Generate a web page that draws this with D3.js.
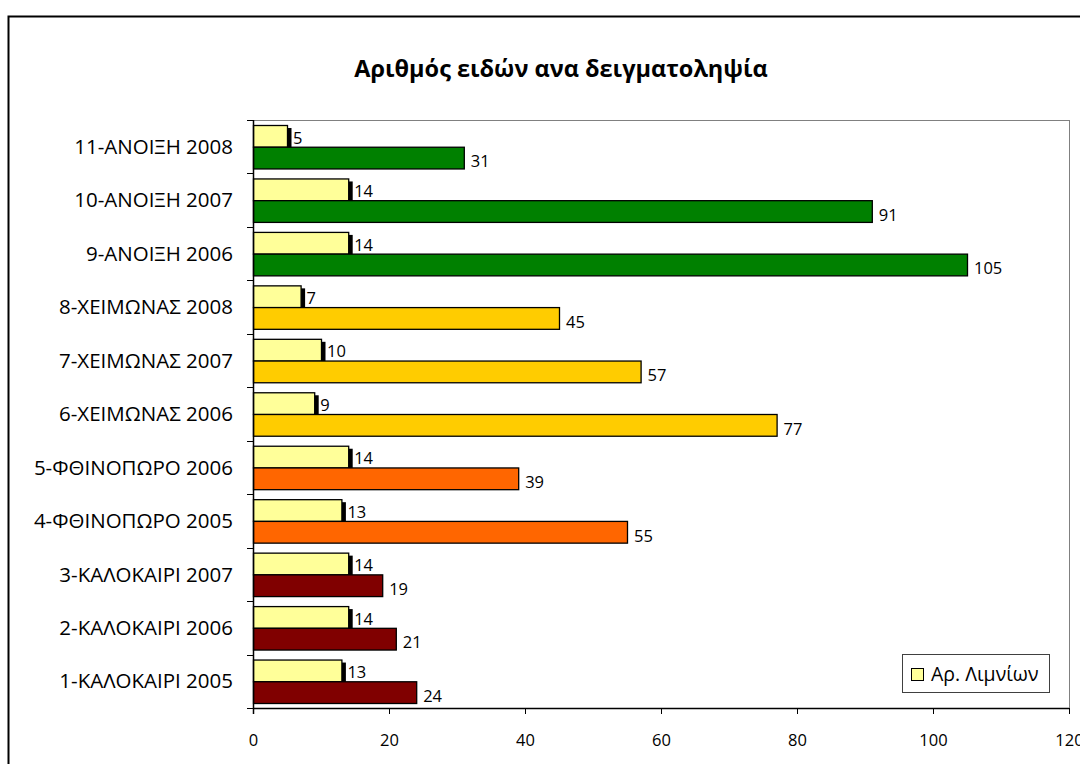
<!DOCTYPE html>
<html><head><meta charset="utf-8">
<script src="https://cdn.jsdelivr.net/npm/d3@7"></script>
<style>body{margin:0;background:#fff}svg{display:block}text{font-family:"Open Sans",sans-serif}</style>
</head><body>
<svg id="c" width="1080" height="764"></svg>
<script>
const categories = ["1-ΚΑΛΟΚΑΙΡΙ 2005","2-ΚΑΛΟΚΑΙΡΙ 2006","3-ΚΑΛΟΚΑΙΡΙ 2007","4-ΦΘΙΝΟΠΩΡΟ 2005","5-ΦΘΙΝΟΠΩΡΟ 2006","6-ΧΕΙΜΩΝΑΣ 2006","7-ΧΕΙΜΩΝΑΣ 2007","8-ΧΕΙΜΩΝΑΣ 2008","9-ΑΝΟΙΞΗ 2006","10-ΑΝΟΙΞΗ 2007","11-ΑΝΟΙΞΗ 2008"];
const lakes = [13,14,14,13,14,9,10,7,14,14,5];
const species = [24,21,19,55,39,77,57,45,105,91,31];
const speciesColors = ["#800000","#800000","#800000","#FF6600","#FF6600","#FFCC00","#FFCC00","#FFCC00","#008000","#008000","#008000"];
const xTicks = [0,20,40,60,80,100,120];
const title = "Αριθμός ειδών ανα δειγματοληψία";
const legendLabel = "Αρ. Λιμνίων";

const svg = d3.select("#c");
svg.append("rect").attr("width",1080).attr("height",764).attr("fill","#fff");
svg.append("rect").attr("x",8.5).attr("y",16.5).attr("width",1100).attr("height",800)
  .attr("fill","none").attr("stroke","#000").attr("stroke-width",2);

svg.append("text").attr("x",561).attr("y",77).attr("text-anchor","middle")
  .attr("font-size",23.5).attr("font-weight","bold").text(title);

const L=253,R=1069,T=120,B=708;
const x = d3.scaleLinear().domain([0,120]).range([L,R]);
const y = d3.scaleBand().domain(categories.slice().reverse()).range([T,B]);
const inset = 5;
const bh = (y.bandwidth()-2*inset)/2;

svg.append("line").attr("x1",L).attr("x2",R).attr("y1",T+0.5).attr("y2",T+0.5).attr("stroke","#808080");
svg.append("line").attr("x1",R+0.5).attr("x2",R+0.5).attr("y1",T).attr("y2",B).attr("stroke","#808080");

const data = categories.map((c,i)=>({c,lake:lakes[i],sp:species[i],col:speciesColors[i]}));
const g = svg.append("g");
g.selectAll(".sh").data(data).join("rect")
  .attr("x",x(0)+0.5).attr("y",d=>y(d.c)+inset+3)
  .attr("width",d=>x(d.lake)-x(0)+4).attr("height",bh).attr("fill","#000");
g.selectAll(".lk").data(data).join("rect")
  .attr("x",x(0)+0.5).attr("y",d=>y(d.c)+inset+0.5)
  .attr("width",d=>x(d.lake)-x(0)).attr("height",bh)
  .attr("fill","#FFFF99").attr("stroke","#000").attr("stroke-width",1.3);
g.selectAll(".sp").data(data).join("rect")
  .attr("x",x(0)+0.5).attr("y",d=>y(d.c)+inset+bh+0.5)
  .attr("width",d=>x(d.sp)-x(0)).attr("height",bh)
  .attr("fill",d=>d.col).attr("stroke","#000").attr("stroke-width",1.3);

g.selectAll(".lkl").data(data).join("text")
  .attr("x",d=>x(d.lake)+6).attr("y",d=>y(d.c)+inset+bh/2+2)
  .attr("dy","0.35em").attr("font-size",16.5).text(d=>d.lake);
g.selectAll(".spl").data(data).join("text")
  .attr("x",d=>x(d.sp)+7).attr("y",d=>y(d.c)+inset+bh*1.5+4)
  .attr("dy","0.35em").attr("font-size",16.5).text(d=>d.sp);

const xa = svg.append("g").attr("transform",`translate(0,${B})`)
  .call(d3.axisBottom(x).tickValues(xTicks).tickSize(6).tickPadding(20).tickFormat(d3.format("d")));
xa.select(".domain").attr("stroke","#000").attr("stroke-width",1.5).attr("d",`M${L},0.5H${R}`);
xa.selectAll("text").attr("font-size",16.5).attr("font-family","Open Sans").attr("fill","#000");
xa.selectAll("line").attr("stroke","#000");

svg.append("line").attr("x1",L+0.5).attr("x2",L+0.5).attr("y1",T).attr("y2",B+6).attr("stroke","#000").attr("stroke-width",1.5);
const bounds = d3.range(categories.length+1).map(i=>T+i*y.step());
svg.selectAll(".yt").data(bounds).join("line")
  .attr("x1",L-6).attr("x2",L).attr("y1",d=>Math.round(d)+0.5).attr("y2",d=>Math.round(d)+0.5).attr("stroke","#000");
svg.selectAll(".yl").data(categories).join("text")
  .attr("x",233).attr("y",d=>y(d)+y.bandwidth()/2).attr("dy","0.35em")
  .attr("text-anchor","end").attr("font-size",20.5).text(d=>d);

const lg = svg.append("g");
lg.append("rect").attr("x",902.5).attr("y",654.5).attr("width",147).attr("height",38).attr("fill","#fff").attr("stroke","#404040");
lg.append("rect").attr("x",911.5).attr("y",668.5).attr("width",12).attr("height",12).attr("fill","#FFFF99").attr("stroke","#000");
lg.append("text").attr("x",931).attr("y",674.5).attr("dy","0.35em").attr("font-size",19.5).text(legendLabel);
</script>
</body></html>
